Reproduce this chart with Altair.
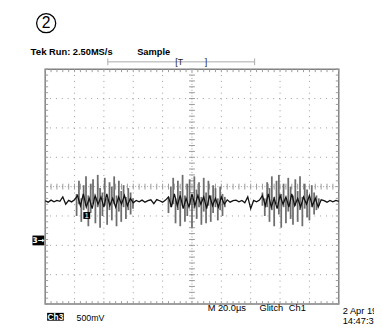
import altair as alt
import pandas as pd
import numpy as np

# ---- data (units: divisions; 20 us/div, 500 mV/div) ----
baseline = -0.5
trace_start = 0.0
trace_step = 0.1
trace_dev = [0.02, -0.03, 0.04, -0.02, 0.03, 0.0, 0.15, -0.1, 0.03, -0.02, 0.05,
             0.2, -0.15, 0.25, -0.2, 0.1, -0.25, 0.2, -0.1, 0.15, -0.2, 0.25, -0.15, 0.1, -0.2, 0.15, -0.1, 0.2, -0.15, 0.1, -0.05,
             0.03, -0.02, 0.04, -0.03, 0.02, 0.05, -0.08, 0.06, 0.02, -0.03, 0.04,
             0.15, -0.2, 0.25, -0.15, 0.2, -0.25, 0.1, -0.2, 0.25, -0.15, 0.2, -0.1, 0.15, -0.25, 0.2, -0.15, 0.1, -0.2, 0.15, -0.1, 0.05,
             -0.03, 0.02, 0.04, -0.02, 0.03, -0.05, 0.15, -0.25, 0.03, -0.02, 0.04,
             0.2, -0.15, 0.25, -0.2, 0.1, -0.25, 0.2, -0.1, 0.15, -0.2, 0.25, -0.15, 0.1, -0.2, 0.15, -0.1, 0.2, -0.15, 0.1, -0.2, 0.05,
             0.02, -0.03, 0.03, -0.02, 0.03, 0.0]

burst_step = 0.08
burst_starts = [1.07, 4.2, 7.4]
burst_tops = [
    [0.25, 0.7, 0.1, 0.55, 0.85, 0.2, 0.6, 0.75, 0.15, 0.9, 0.45, 0.3, 0.8, 0.1, 0.65, 0.5, 0.85, 0.2, 0.7, 0.35, 0.55, 0.15, 0.45, 0.3, 0.1],
    [0.15, 0.5, 0.8, 0.1, 0.7, 0.35, 0.9, 0.2, 0.6, 0.75, 0.1, 0.85, 0.4, 0.65, 0.15, 0.8, 0.3, 0.7, 0.2, 0.55, 0.45, 0.1, 0.5, 0.25, 0.15],
    [0.3, 0.1, 0.65, 0.45, 0.85, 0.15, 0.7, 0.9, 0.25, 0.6, 0.1, 0.8, 0.5, 0.2, 0.75, 0.35, 0.85, 0.15, 0.6, 0.4, 0.1, 0.55, 0.3, 0.2, 0.1],
]
burst_bottoms = [
    [-0.5, -0.1, -0.7, -0.3, -0.15, -0.85, -0.4, -0.1, -0.75, -0.2, -0.9, -0.5, -0.15, -0.8, -0.3, -0.65, -0.1, -0.85, -0.35, -0.7, -0.2, -0.6, -0.3, -0.45, -0.25],
    [-0.4, -0.2, -0.1, -0.75, -0.3, -0.85, -0.15, -0.7, -0.5, -0.1, -0.9, -0.25, -0.6, -0.2, -0.8, -0.35, -0.75, -0.15, -0.7, -0.4, -0.2, -0.65, -0.3, -0.5, -0.2],
    [-0.15, -0.5, -0.2, -0.7, -0.3, -0.85, -0.1, -0.45, -0.9, -0.2, -0.75, -0.35, -0.6, -0.8, -0.15, -0.7, -0.3, -0.85, -0.25, -0.55, -0.65, -0.2, -0.45, -0.3, -0.15],
]

major_x = [1, 2, 3, 4, 6, 7, 8, 9]
major_y = [-3, -2, -1, 1, 2, 3]

# ---- tables ----
trace = pd.DataFrame({
    "t": np.round(trace_start + np.arange(len(trace_dev)) * trace_step, 3),
    "v": [baseline + d for d in trace_dev],
})
rows = []
for s, tops, bots in zip(burst_starts, burst_tops, burst_bottoms):
    for i, (a, b) in enumerate(zip(tops, bots)):
        rows.append({"t": round(s + i * burst_step, 3), "hi": baseline + a, "lo": baseline + b})
bursts = pd.DataFrame(rows)

minor_x = pd.DataFrame({"p": np.round(np.arange(0, 10.001, 0.2), 2)})
minor_y = pd.DataFrame({"p": np.round(np.arange(-4, 4.001, 0.2), 2)})

xs = alt.Scale(domain=[0, 10], nice=False, zero=False)
ys = alt.Scale(domain=[-4, 4], nice=False, zero=False)
X = lambda f: alt.X(f, scale=xs, axis=None)
Y = lambda f: alt.Y(f, scale=ys, axis=None)

GRID = "#9a9a9a"
one = alt.Data(values=[{}])

grid_v = alt.Chart(pd.DataFrame({"p": major_x})).mark_rule(
    color=GRID, strokeWidth=1, strokeDash=[1, 5]).encode(x=X("p:Q"))
grid_h = alt.Chart(pd.DataFrame({"p": major_y})).mark_rule(
    color=GRID, strokeWidth=1, strokeDash=[1, 5]).encode(y=Y("p:Q"))
center_v = alt.Chart(pd.DataFrame({"p": [5]})).mark_rule(
    color=GRID, strokeWidth=1, strokeDash=[1, 2]).encode(x=X("p:Q"))
center_h = alt.Chart(pd.DataFrame({"p": [0]})).mark_rule(
    color=GRID, strokeWidth=1, strokeDash=[1, 2]).encode(y=Y("p:Q"))

def hticks(y0, y1):
    return alt.Chart(minor_x).mark_rule(color=GRID, strokeWidth=1).encode(
        x=X("p:Q"), y=alt.value(y0), y2=alt.value(y1))

def vticks(x0, x1):
    return alt.Chart(minor_y).mark_rule(color=GRID, strokeWidth=1).encode(
        y=Y("p:Q"), x=alt.value(x0), x2=alt.value(x1))

ticks = [hticks(0, 3), hticks(237, 240), hticks(117, 123),
         vticks(0, 3), vticks(297, 300), vticks(147, 153)]

spikes = alt.Chart(bursts).mark_rule(color="#6e6e6e", strokeWidth=1.8).encode(
    x=X("t:Q"), y=Y("lo:Q"), y2="hi:Q")
line = alt.Chart(trace).mark_line(color="#111111", strokeWidth=1.3).encode(
    x=X("t:Q"), y=Y("v:Q"))

FONT = "Liberation Sans"

def txt(s, x, y, size=9.5, weight="bold", color="black", align="left", baseline="alphabetic", font=FONT):
    return alt.Chart(one).mark_text(text=s, fontSize=size, fontWeight=weight, color=color,
                                    align=align, baseline=baseline, font=font).encode(
        x=alt.value(x), y=alt.value(y))

def box(x0, x1, y0, y1, color="black"):
    return alt.Chart(one).mark_rect(color=color).encode(
        x=alt.value(x0), x2=alt.value(x1), y=alt.value(y0), y2=alt.value(y1))

def seg(x0, x1, y0, y1, color="#aaaaaa"):
    return alt.Chart(one).mark_rule(color=color, strokeWidth=1).encode(
        x=alt.value(x0), x2=alt.value(x1), y=alt.value(y0), y2=alt.value(y1))

# origin of plot area is at page (46, 67)
circle = alt.Chart(one).mark_point(shape="circle", size=380, filled=False, color="black",
                                   strokeWidth=1.3, opacity=1).encode(
    x=alt.value(1), y=alt.value(-47))
annots = [
    circle,
    txt("2", 1, -47, size=16, weight="normal", align="center", baseline="middle"),
    txt("Tek", -15, -14, size=10),
    txt("Run: 2.50MS/s", 4, -14, size=9.5),
    txt("Sample", 94, -14, size=9.5),
    # trigger bar
    seg(64, 214, -7.5, -7.5),
    seg(64, 64, -11, -4),
    seg(214, 214, -11, -4),
    txt("[T", 133, -4, size=9, weight="normal", color="#222222"),
    txt("]", 163, -4, size=9, weight="normal", color="#222222"),
    # channel markers
    box(-13, -1, 170, 180),
    txt("3\u2192", -7, 175.5, size=8, color="white", align="center", baseline="middle",
        font="DejaVu Sans"),
    box(39, 46, 146, 153),
    txt("1", 42.5, 150, size=7, color="#cccccc", align="center", baseline="middle"),
    # bottom readouts
    box(2, 19, 249, 257),
    txt("Ch3", 10.5, 253.5, size=8.5, color="white", align="center", baseline="middle"),
    txt("500mV", 32, 257, size=9, weight="normal"),
    txt("M 20.0\u00b5s", 166, 247, size=9.5, weight="normal"),
    txt("Glitch", 219, 247, size=9.5, weight="normal"),
    txt("Ch1", 249, 247, size=9.5, weight="normal"),
    txt("2 Apr 1997", 304, 250, size=9.5, weight="normal"),
    txt("14:47:32", 304, 260, size=9.5, weight="normal"),
]

chart = alt.layer(
    grid_v, grid_h, center_v, center_h, *ticks, spikes, line, *annots
).properties(
    width=300, height=240,
    autosize=alt.AutoSizeParams(type="none"),
    padding={"left": 38, "top": 59, "right": 36, "bottom": 24},
    background="white",
).configure_view(stroke="#808080", strokeWidth=1.5)

chart.save("out.html", embed_options={"renderer": "svg", "actions": False})
